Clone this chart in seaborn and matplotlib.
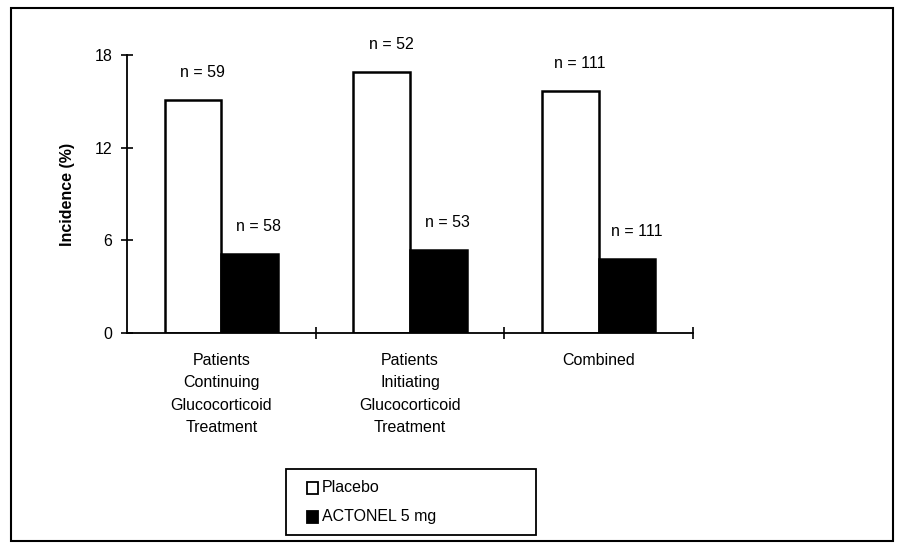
import pandas as pd
import seaborn as sns
import matplotlib.pyplot as plt
from matplotlib.patches import Rectangle

groups = ['Patients\nContinuing\nGlucocorticoid\nTreatment',
          'Patients\nInitiating\nGlucocorticoid\nTreatment',
          'Combined']
treatments = ['Placebo', 'ACTONEL 5 mg']
placebo = [15.1, 16.9, 15.7]
actonel = [5.1, 5.4, 4.8]
n_placebo = [59, 52, 111]
n_actonel = [58, 53, 111]

df = pd.DataFrame({
    'group': groups * 2,
    'treatment': [treatments[0]] * 3 + [treatments[1]] * 3,
    'incidence': placebo + actonel,
})

sns.set_style('white')
plt.rcParams['font.family'] = ['Liberation Sans', 'DejaVu Sans']
plt.rcParams['text.color'] = 'black'
plt.rcParams['axes.labelcolor'] = 'black'

fig = plt.figure(figsize=(9, 5.58), dpi=100)
ax = fig.add_axes([0.141, 0.403, 0.629, 0.498])

sns.barplot(data=df, x='group', y='incidence', hue='treatment',
            palette=['white', 'black'], edgecolor='black', linewidth=1.8,
            width=0.6, ax=ax, legend=False)

# n = ... labels above bars
for cont, ns in zip(ax.containers, [n_placebo, n_actonel]):
    for bar, n in zip(cont, ns):
        ax.text(bar.get_x() + bar.get_width() / 2 + 0.05, bar.get_height() + 1.3,
                f'n = {n}', ha='center', va='bottom', fontsize=11.5)

ax.set_xlim(-0.5, 2.5)
ax.set_ylim(0, 18)
ax.set_yticks([0, 6, 12, 18])
ax.set_ylabel('Incidence (%)', fontsize=11.5, fontweight='bold', labelpad=14)
ax.set_xlabel('')
ax.set_xticks([0.5, 1.5, 2.5])
ax.set_xticklabels([])
ax.tick_params(axis='both', left=True, bottom=True, direction='inout',
               length=9, width=1.2, labelsize=11.5, colors='black')
ax.tick_params(axis='y', pad=6)
for i, g in enumerate(groups):
    ax.text(i, -1.3, g, ha='center', va='top', fontsize=11.5, linespacing=1.6)

for side in ['top', 'right']:
    ax.spines[side].set_visible(False)
for side in ['left', 'bottom']:
    ax.spines[side].set_linewidth(1.3)
    ax.spines[side].set_color('black')

# legend box
lx, ly, lw, lh = 0.318, 0.042, 0.278, 0.118
fig.patches.append(Rectangle((lx, ly), lw, lh, transform=fig.transFigure,
                             fill=False, edgecolor='black', linewidth=1.3))
for k, (lab, col) in enumerate(zip(treatments, ['white', 'black'])):
    yy = ly + lh * (0.72 - 0.45 * k)
    fig.patches.append(Rectangle((lx + 0.023, yy - 0.012), 0.012, 0.022,
                                 transform=fig.transFigure, facecolor=col,
                                 edgecolor='black', linewidth=1.3))
    fig.text(lx + 0.04, yy, lab, ha='left', va='center', fontsize=11.5)

# outer frame
fig.patches.append(Rectangle((0.012, 0.03), 0.98, 0.955, transform=fig.transFigure,
                             fill=False, edgecolor='black', linewidth=1.5))

fig.savefig('out.png', dpi=100)
